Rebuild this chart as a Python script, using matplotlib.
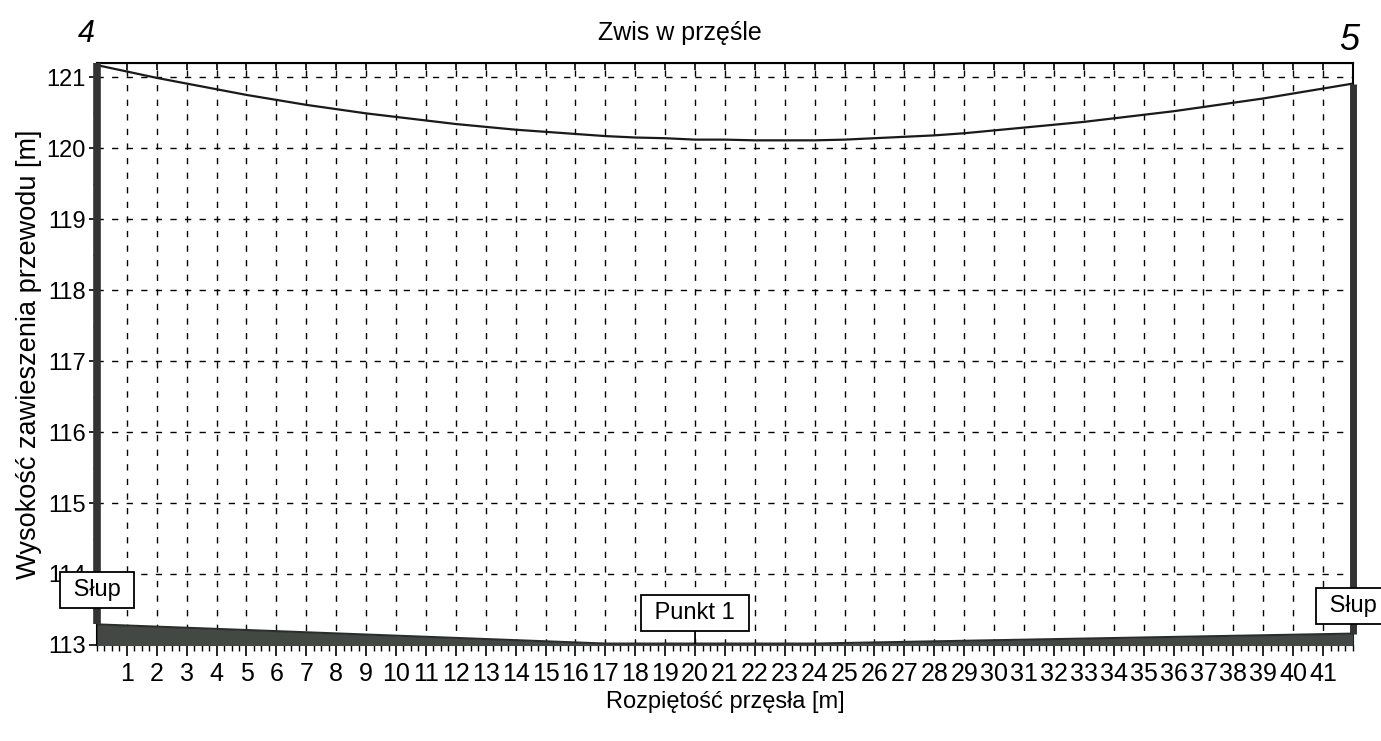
import matplotlib
matplotlib.use('Agg')
import matplotlib.pyplot as plt
from matplotlib.ticker import MultipleLocator

plt.rcParams['font.family'] = ['Liberation Sans', 'DejaVu Sans']

# rozpiętość przęsła co 1 m i wysokość przewodu (odczyt z wykresu)
odleglosc = list(range(0, 43))
wysokosc = [121.17, 121.08, 120.99, 120.91, 120.83, 120.75, 120.68, 120.61,
            120.55, 120.49, 120.44, 120.39, 120.34, 120.30, 120.26, 120.23,
            120.20, 120.17, 120.15, 120.14, 120.12, 120.12, 120.11, 120.11,
            120.11, 120.12, 120.14, 120.16, 120.18, 120.21, 120.25, 120.29,
            120.33, 120.37, 120.42, 120.47, 120.52, 120.58, 120.64, 120.70,
            120.77, 120.84, 120.91]

# profil terenu
teren_x = [0, 17, 24, 42]
teren_y = [113.29, 113.02, 113.02, 113.16]

# słupy i punkt
slup_x = [0, 42]
punkt_x = 20
punkt_y = 113.02
etykiety_x = [str(i) for i in range(1, 42)]

fig = plt.figure(figsize=(13.81, 7.41), dpi=100)
ax = fig.add_axes([0.0702, 0.1296, 0.9095, 0.7854])

ax.set_xlim(0, 42)
ax.set_ylim(113, 121.2)

# siatka
for xv in range(1, 42):
    ax.axvline(xv, color='black', lw=1.0, ls=(0, (4.5, 6)), zorder=1)
for yv in range(114, 122):
    ax.axhline(yv, color='black', lw=1.0, ls=(0, (4.5, 6)), zorder=1)

# teren
ax.fill_between(teren_x, 112.9, teren_y, color='#434845', zorder=3, lw=0)
ax.plot(teren_x, teren_y, color='#2a2d2b', lw=1.5, zorder=3)

# przewód
ax.plot(odleglosc, wysokosc, color='#1a1a1a', lw=1.6, zorder=4)

# słupy
ax.plot([slup_x[0], slup_x[0]], [teren_y[0], 121.2], color='#333333', lw=5.5,
        solid_capstyle='butt', zorder=5, clip_on=False)
ax.plot([slup_x[1], slup_x[1]], [teren_y[-1], wysokosc[-1]], color='#333333', lw=5.0,
        solid_capstyle='butt', zorder=5, clip_on=False)

box = dict(boxstyle='square,pad=0.3', fc='white', ec='black', lw=1.3)
ax.text(slup_x[0], 113.77, ' Słup ', ha='center', va='center', fontsize=17,
        bbox=box, zorder=6, clip_on=False)
ax.text(slup_x[1], 113.55, ' Słup ', ha='center', va='center', fontsize=17,
        bbox=box, zorder=6, clip_on=False)
ax.annotate(' Punkt 1 ', xy=(punkt_x, punkt_y), xytext=(punkt_x, 113.45),
            ha='center', va='center', fontsize=17, bbox=box, zorder=6,
            arrowprops=dict(arrowstyle='-', color='black', lw=1.3,
                            shrinkA=0, shrinkB=0))

# osie
ax.set_xticks(range(1, 42))
ax.set_xticklabels(etykiety_x, fontsize=18)
ax.xaxis.set_minor_locator(MultipleLocator(0.25))
ax.tick_params(axis='x', which='major', direction='out', length=8, width=1.2, pad=4)
ax.tick_params(axis='x', which='minor', direction='out', length=4, width=1.0)
ax.set_yticks(range(113, 122))
ax.tick_params(axis='y', which='major', direction='out', length=6, width=1.2,
               labelsize=17, pad=2)
ax.yaxis.set_minor_locator(MultipleLocator(0.5))
ax.tick_params(axis='y', which='minor', direction='out', length=3, width=1.0)

# krótkie znaczniki do wewnątrz na górnej krawędzi
top = ax.secondary_xaxis('top')
top.set_xticks(range(1, 42))
top.tick_params(direction='in', length=5, width=1.2, labeltop=False)

for s in ax.spines.values():
    s.set_linewidth(1.5)

ax.set_xlabel('Rozpiętość przęsła [m]', fontsize=17, labelpad=4)
ax.set_ylabel('Wysokość zawieszenia przewodu [m]', fontsize=19.5, labelpad=3)

fig.text(680 / 1381, 1 - 33 / 741, 'Zwis w przęśle', ha='center', va='center',
         fontsize=18)
fig.text(86 / 1381, 1 - 34 / 741, '4', ha='center', va='center', fontsize=22,
         style='italic')
fig.text(1349 / 1381, 1 - 41 / 741, '5', ha='center', va='center', fontsize=26,
         style='italic')

plt.savefig('out.png', dpi=100)
